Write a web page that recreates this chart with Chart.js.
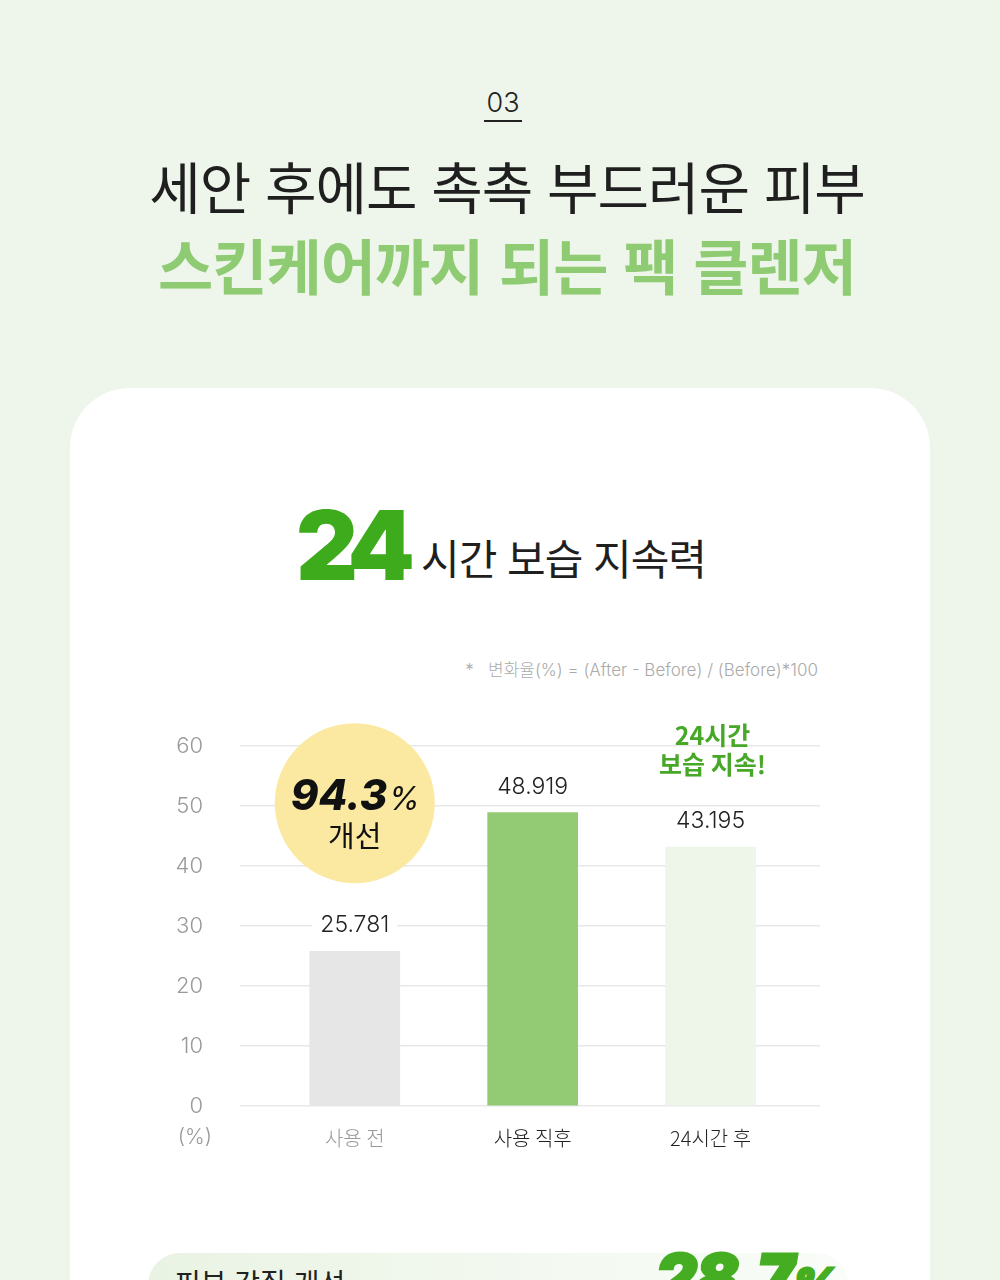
<!DOCTYPE html>
<html lang="ko">
<head>
<meta charset="utf-8">
<script src="https://cdn.jsdelivr.net/npm/chart.js@4.4.1/dist/chart.umd.min.js"></script>
<style>
  html, body { margin: 0; padding: 0; }
  body { width: 1000px; height: 1280px; overflow: hidden; background: #eef5ea; position: relative;
         font-family: "Noto Sans CJK KR", "Noto Sans", sans-serif; }
  .num { position: absolute; left: 0; width: 1006px; top: 87px; text-align: center; font-size: 27px; color: #222;
         font-family: "Inter", "Noto Sans", sans-serif; font-weight: 300; line-height: 32px; }
  .num span { border-bottom: 2px solid #222; padding: 0 2px 1px; }
  .t1 { position: absolute; left: 0; width: 1014px; top: 144px; text-align: center; font-size: 56px; color: #1f1f1f; font-weight: 400; letter-spacing: -1px; }
  .t2 { position: absolute; left: 0; width: 1014px; top: 220px; text-align: center; font-size: 60px; color: #8fcb72; font-weight: 700; letter-spacing: -1px; }
  .card { position: absolute; left: 70px; top: 388px; width: 860px; height: 1100px; background: #fff; border-radius: 60px; }
  .h24 { position: absolute; left: 296px; top: 487px; font-size: 96px; font-weight: 900; color: #3dab1b; font-family: "Inter", "Noto Sans", sans-serif; letter-spacing: -9px; }
  .hsub { position: absolute; left: 421px; top: 526px; font-size: 42px; color: #1f1f1f; font-weight: 400; letter-spacing: -1px; }
  .note { position: absolute; right: 182px; top: 656px; font-size: 17px; color: #aaa; font-weight: 300;
          font-family: "Inter", "Noto Sans CJK KR", sans-serif; }
  #wrap { position: absolute; left: 150px; top: 696px; width: 700px; height: 474px; }
  #wrap canvas { display: block; }
  .box { position: absolute; left: 148px; top: 1253px; width: 700px; height: 120px; border-radius: 32px;
         background: linear-gradient(90deg, #e9f3e3 0%, #f4f9f1 60%, #f9fcf8 100%); }
  .boxt { position: absolute; left: 175px; top: 1262px; font-size: 28px; color: #222; }
  .big { position: absolute; left: 656px; top: 1237px; font-size: 63px; font-weight: 900; font-style: italic; color: #44ad22;
         -webkit-text-stroke: 3px #44ad22; font-family: "Inter", "Noto Sans", sans-serif; letter-spacing: -1px; line-height: 80px; }
  .big small { font-size: 44px; }
</style>
</head>
<body>
<div class="num"><span>03</span></div>
<div class="t1">세안 후에도 촉촉 부드러운 피부</div>
<div class="t2">스킨케어까지 되는 팩 클렌저</div>
<div class="card"></div>
<div class="h24">24</div>
<div class="hsub">시간 보습 지속력</div>
<div class="note">*&nbsp;&nbsp;&nbsp;변화율(%) = (After - Before) / (Before)*100</div>
<div id="wrap"><canvas id="c" width="700" height="474"></canvas></div>
<div class="box"></div>
<div class="boxt">피부 각질 개선</div>
<div class="big">28.7<small>%</small></div>
<script>
const categories = ["사용 전", "사용 직후", "24시간 후"];
const values = [25.781, 48.919, 43.195];
const valueLabels = ["25.781", "48.919", "43.195"];
const yTicks = [0, 10, 20, 30, 40, 50, 60];
const improvement = "94.3%";
const improvementSub = "개선";
const calloutLines = ["24시간", "보습 지속!"];
const unitLabel = "(%)";

const barColors = ["#e6e6e6", "#93ca74", "#eef6ea"];
const tickColors = ["#999999", "#222222", "#222222"];

const extras = {
  id: "extras",
  beforeDatasetsDraw(chart) {
    const ctx = chart.ctx, x = chart.scales.x, y = chart.scales.y;
    const cx = x.getPixelForValue(0), cy = y.getPixelForValue(50.5);
    ctx.save();
    ctx.fillStyle = "#fbe9a1";
    ctx.beginPath(); ctx.arc(cx, cy, 80, 0, Math.PI * 2); ctx.fill();
    ctx.fillStyle = "#111";
    ctx.textBaseline = "alphabetic";
    const main = improvement.slice(0, -1);
    ctx.font = "italic 800 42px Inter, 'Noto Sans', sans-serif";
    const w1 = ctx.measureText(main).width;
    ctx.font = "italic 400 32px Inter, 'Noto Sans', sans-serif";
    const w2 = ctx.measureText("%").width;
    const sx = cx - (w1 + w2) / 2;
    ctx.textAlign = "left";
    ctx.font = "italic 800 42px Inter, 'Noto Sans', sans-serif";
    ctx.fillText(main, sx, cy + 7);
    ctx.font = "italic 400 32px Inter, 'Noto Sans', sans-serif";
    ctx.fillText("%", sx + w1 + 1, cy + 7);
    ctx.textAlign = "center";
    ctx.font = "400 29px 'Noto Sans CJK KR', sans-serif";
    ctx.fillText(improvementSub, cx, cy + 44);
    ctx.restore();
  },
  afterDatasetsDraw(chart) {
    const ctx = chart.ctx, x = chart.scales.x, y = chart.scales.y;
    const meta = chart.getDatasetMeta(0);
    ctx.save();
    ctx.font = "300 23px Inter, 'Noto Sans', sans-serif";
    ctx.textAlign = "center"; ctx.textBaseline = "middle";
    meta.data.forEach((bar, i) => {
      const ty = bar.y - 26;
      const w = ctx.measureText(valueLabels[i]).width;
      ctx.fillStyle = "#fff";
      ctx.fillRect(bar.x - w / 2 - 8, ty - 13, w + 16, 26);
      ctx.fillStyle = "#222";
      ctx.fillText(valueLabels[i], bar.x, ty);
    });
    const lx = x.getPixelForValue(2) + 2;
    ctx.fillStyle = "#47a828";
    ctx.font = "700 25px 'Noto Sans CJK KR', sans-serif";
    ctx.fillText(calloutLines[0], lx, y.getPixelForValue(60) - 11);
    ctx.fillText(calloutLines[1], lx, y.getPixelForValue(60) + 18);
    ctx.fillStyle = "#999";
    ctx.font = "300 21px Inter, 'Noto Sans', sans-serif";
    ctx.textAlign = "right";
    ctx.fillText(unitLabel, y.right - 28, chart.chartArea.bottom + 32);
    ctx.restore();
  }
};

new Chart(document.getElementById("c"), {
  type: "bar",
  data: {
    datasets: [{
      data: values.map((v, i) => ({ x: i, y: v })),
      backgroundColor: barColors,
      barThickness: 90,
      borderWidth: 0
    }]
  },
  options: {
    responsive: false,
    animation: false,
    events: [],
    layout: { padding: { top: 46, right: 30, left: 0, bottom: 0 } },
    plugins: { legend: { display: false }, tooltip: { enabled: false } },
    scales: {
      x: {
        type: "linear",
        offset: false,
        min: -0.645, max: 2.615,
        afterBuildTicks: (s) => { s.ticks = categories.map((c, i) => ({ value: i })); },
        afterFit: (s) => { s.height = 64; },
        grid: { display: false, offset: false },
        border: { display: false },
        ticks: {
          callback: (v) => categories[v],
          color: (c) => tickColors[c.index],
          padding: 12,
          font: { family: "'Noto Sans CJK KR', sans-serif", size: 20, weight: 300 }
        }
      },
      y: {
        min: 0, max: 60,
        afterBuildTicks: (s) => { s.ticks = yTicks.map(v => ({ value: v })); },
        afterFit: (s) => { s.width = 90; },
        grid: { color: "#e8e8e8", lineWidth: 1.5, drawTicks: false },
        border: { display: false },
        ticks: {
          color: "#999",
          padding: 37,
          font: { family: "Inter, 'Noto Sans', sans-serif", size: 22, weight: 300 }
        }
      }
    }
  },
  plugins: [extras]
});
</script>
</body>
</html>
